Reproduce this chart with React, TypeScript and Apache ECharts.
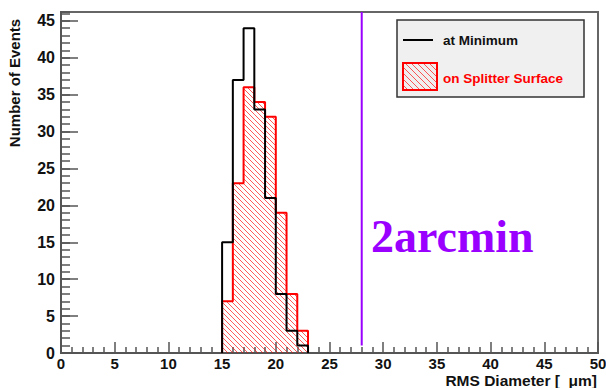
import React, { useEffect, useRef } from "react";
import * as echarts from "echarts";

// Histogram bin edges (RMS diameter, µm) and counts per bin
const binEdges = [15, 16, 17, 18, 19, 20, 21, 22, 23];
const atMinimum = [15, 37, 44, 33, 21, 8, 3, 1];
const onSplitterSurface = [7, 23, 36, 34, 32, 19, 8, 3];

// Axis ranges
const xMin = 0;
const xMax = 50;
const xMajor = 5;
const yMin = 0;
const yMax = 46.2;
const yMajor = 5;

// Vertical reference line
const markerX = 28;
const markerYLow = 1;
const markerText = "2arcmin";

const seriesNames = ["at Minimum", "on Splitter Surface"];

const RED = "#ff0000";
const PURPLE = "#9900ff";
const SANS = '"Liberation Sans", Arial, Helvetica, sans-serif';
const SERIF = '"Liberation Serif", "Times New Roman", serif';

// Diagonal "\\\\" hatch segments clipped to a rectangle (pixel space)
function hatchSegments(x0: number, x1: number, top: number, bottom: number, gap: number) {
  const segs: number[][] = [];
  const cStart = Math.floor((top - x1) / gap) * gap;
  const cEnd = bottom - x0;
  for (let c = cStart; c <= cEnd; c += gap) {
    const xa = Math.max(x0, top - c);
    const xb = Math.min(x1, bottom - c);
    if (xb - xa > 0.3) segs.push([xa, xa + c, xb, xb + c]);
  }
  return segs;
}

function stepPoints(values: number[]) {
  const pts: number[][] = [[binEdges[0], 0]];
  values.forEach((v, i) => {
    pts.push([binEdges[i], v]);
    pts.push([binEdges[i + 1], v]);
  });
  pts.push([binEdges[values.length], 0]);
  return pts;
}

export default function App() {
  const ref = useRef<HTMLDivElement>(null);

  useEffect(() => {
    if (!ref.current) return;
    const chart = echarts.init(ref.current, undefined, { renderer: "svg" });

    const hatchData = onSplitterSurface.map((v, i) => [binEdges[i], binEdges[i + 1], v]);
    const HATCH_GAP = 5;

    const legendHatch = hatchSegments(404, 436, 64, 89, 6).map((s) => ({
      type: "line",
      shape: { x1: s[0], y1: s[1], x2: s[2], y2: s[3] },
      style: { stroke: "rgba(255,0,0,0.65)", lineWidth: 1 },
    }));

    const labelStyle = { fontSize: 16, fontWeight: "bold" as const, fontFamily: SANS, color: "#111" };

    const option: any = {
      animation: false,
      backgroundColor: "#ffffff",
      grid: {
        left: 61,
        right: 8,
        top: 12,
        bottom: 35,
        show: true,
        borderColor: "#666",
        borderWidth: 2,
        backgroundColor: "transparent",
        containLabel: false,
        outerBoundsMode: "none",
      },
      xAxis: {
        type: "value",
        min: xMin,
        max: xMax,
        interval: xMajor,
        axisLine: { show: true, lineStyle: { color: "#555", width: 2 } },
        axisTick: { show: true, inside: true, length: 11, lineStyle: { color: "#555", width: 1.5 } },
        minorTick: { show: true, splitNumber: 5, length: 6, lineStyle: { color: "#555", width: 1.5 } },
        splitLine: { show: false },
        minorSplitLine: { show: false },
        axisLabel: { ...labelStyle, fontSize: 15, margin: 3 },
      },
      yAxis: [
        {
          type: "value",
          min: yMin,
          max: yMax,
          interval: yMajor,
          position: "left",
          axisLine: { show: true, lineStyle: { color: "#555", width: 2 } },
          axisTick: { show: true, inside: true, length: 17, lineStyle: { color: "#555", width: 1.5 } },
          minorTick: { show: false },
          splitLine: { show: false },
          axisLabel: { ...labelStyle, margin: 6, showMaxLabel: false },
        },
        {
          type: "value",
          min: yMin,
          max: yMax,
          interval: 1,
          position: "left",
          axisLine: { show: false },
          axisTick: { show: true, inside: true, length: 9, lineStyle: { color: "#555", width: 1.5 } },
          splitLine: { show: false },
          axisLabel: { show: false },
        },
      ],
      series: [
        {
          name: seriesNames[1] + " fill",
          type: "custom",
          yAxisIndex: 0,
          data: hatchData,
          encode: { x: [0, 1], y: 2 },
          renderItem: (params: any, api: any) => {
            const lo = api.value(0);
            const hi = api.value(1);
            const v = api.value(2);
            const pTop = api.coord([lo, v]);
            const pBot = api.coord([hi, 0]);
            const segs = hatchSegments(pTop[0], pBot[0], pTop[1], pBot[1], HATCH_GAP);
            return {
              type: "group",
              children: segs.map((s) => ({
                type: "line",
                shape: { x1: s[0], y1: s[1], x2: s[2], y2: s[3] },
                style: { stroke: "rgba(255,0,0,0.65)", lineWidth: 1 },
              })),
            };
          },
        },
        {
          name: seriesNames[1],
          type: "line",
          yAxisIndex: 0,
          data: stepPoints(onSplitterSurface),
          showSymbol: false,
          symbol: "none",
          lineStyle: { color: RED, width: 2 },
          itemStyle: { color: RED },
        },
        {
          name: seriesNames[0],
          type: "line",
          yAxisIndex: 0,
          data: stepPoints(atMinimum),
          showSymbol: false,
          symbol: "none",
          lineStyle: { color: "#000", width: 2 },
          itemStyle: { color: "#000" },
        },
        {
          name: markerText,
          type: "line",
          yAxisIndex: 0,
          data: [
            [markerX, markerYLow],
            [markerX, yMax],
          ],
          showSymbol: false,
          symbol: "none",
          lineStyle: { color: PURPLE, width: 2 },
        },
      ],
      graphic: [
        {
          type: "text",
          x: 14,
          y: 83,
          rotation: Math.PI / 2,
          style: {
            text: "Number of Events",
            fontSize: 15,
            fontWeight: "bold",
            fontFamily: SANS,
            fill: "#111",
            align: "center",
            verticalAlign: "middle",
          },
        },
        {
          type: "text",
          x: 597,
          y: 380,
          style: {
            text: "RMS Diameter [  \u03bcm]",
            fontSize: 15.5,
            fontWeight: "bold",
            fontFamily: SANS,
            fill: "#111",
            align: "right",
            verticalAlign: "middle",
          },
        },
        {
          type: "text",
          x: 371,
          y: 236,
          style: {
            text: markerText,
            fontSize: 46,
            fontWeight: "bold",
            fontFamily: SERIF,
            fill: PURPLE,
            align: "left",
            verticalAlign: "middle",
          },
        },
        {
          type: "rect",
          shape: { x: 397, y: 20, width: 187, height: 77 },
          style: { fill: "#f0f0f0", stroke: "#333", lineWidth: 1.5 },
        },
        {
          type: "line",
          shape: { x1: 403, y1: 40, x2: 433, y2: 40 },
          style: { stroke: "#000", lineWidth: 2 },
        },
        {
          type: "text",
          x: 443,
          y: 40,
          style: {
            text: seriesNames[0],
            fontSize: 13.5,
            fontWeight: "bold",
            fontFamily: SANS,
            fill: "#111",
            verticalAlign: "middle",
          },
        },
        ...legendHatch,
        {
          type: "rect",
          shape: { x: 403, y: 63, width: 34, height: 27 },
          style: { fill: "transparent", stroke: RED, lineWidth: 2 },
        },
        {
          type: "text",
          x: 443,
          y: 78,
          style: {
            text: seriesNames[1],
            fontSize: 13.5,
            fontWeight: "bold",
            fontFamily: SANS,
            fill: RED,
            verticalAlign: "middle",
          },
        },
      ],
    };

    chart.setOption(option);
    return () => chart.dispose();
  }, []);

  return (
    <div
      ref={ref}
      style={{ position: "fixed", left: 0, top: 0, width: 606, height: 388, background: "#fff" }}
    />
  );
}
